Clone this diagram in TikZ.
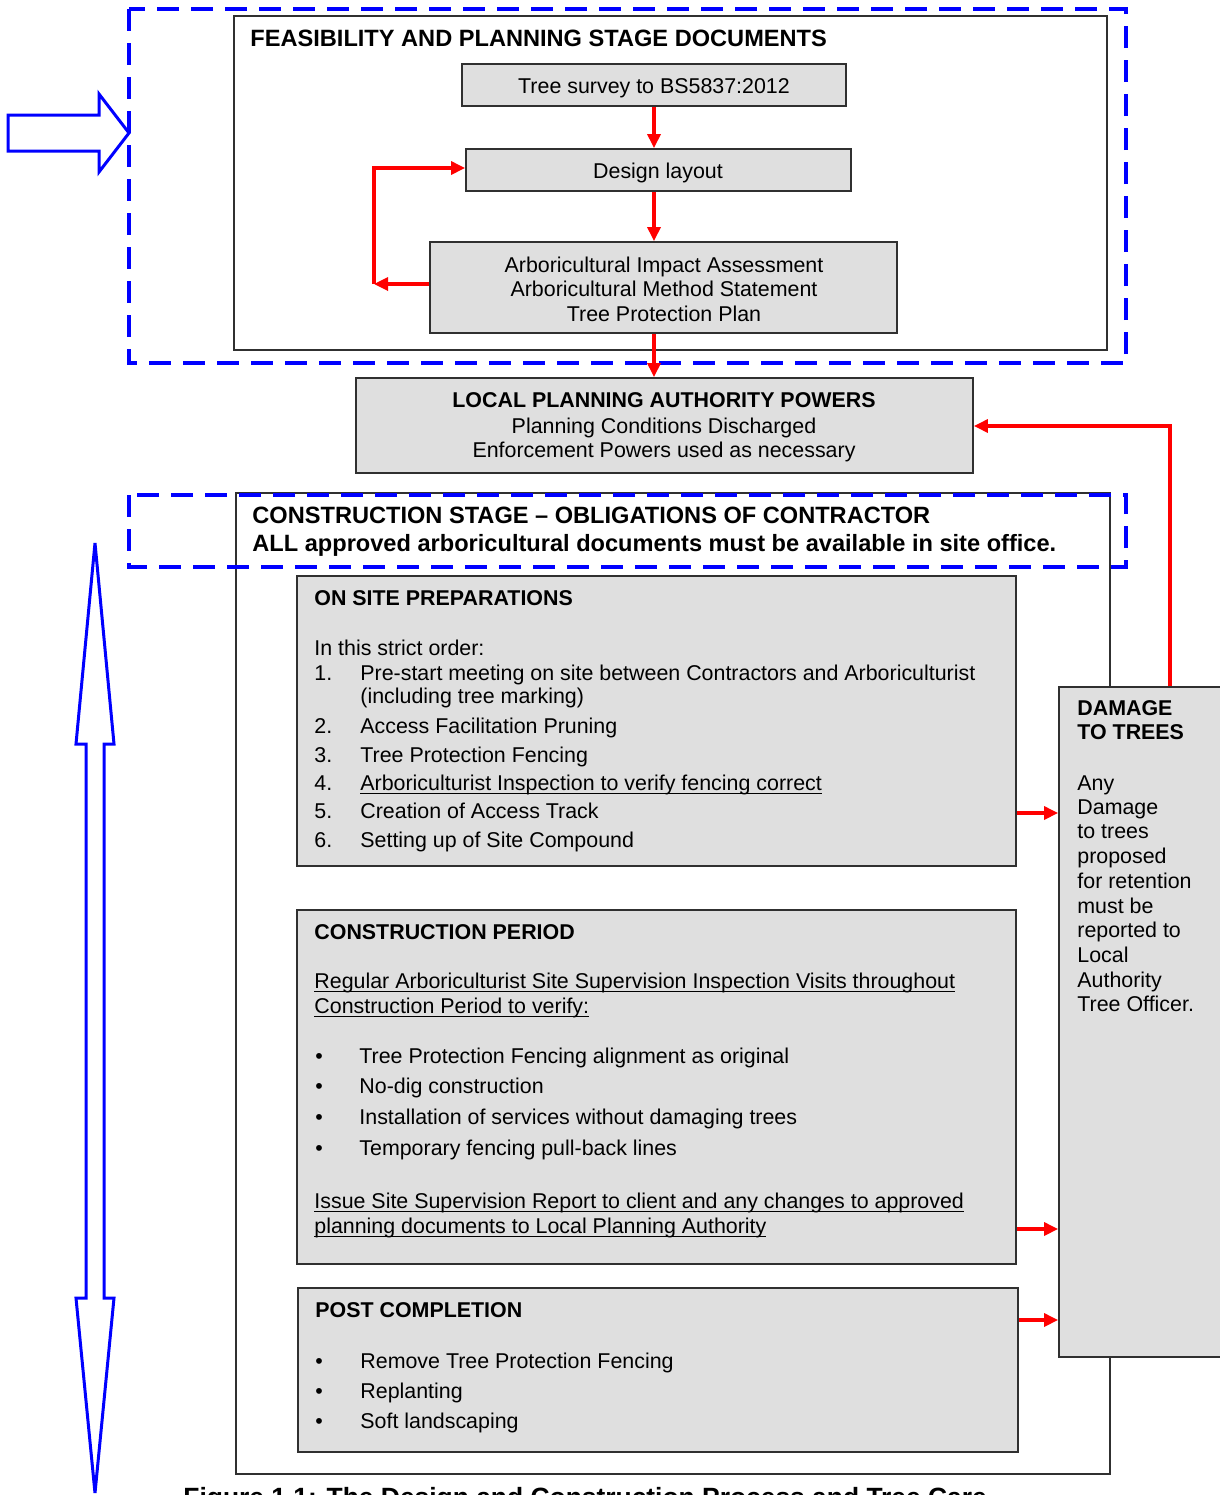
\documentclass[tikz,border=0pt]{standalone}
\usepackage{fontspec}
\setmainfont{Liberation Sans}
\usetikzlibrary{arrows.meta,fit}
\definecolor{boxgray}{HTML}{DFDFDF}
\definecolor{edgecol}{HTML}{303030}
\newcommand\fs{\fontsize{10.7}{13}\selectfont}
\newcommand\fsbig{\fontsize{11.8}{14}\selectfont}
\newcommand\fscap{\fontsize{13.2}{16}\selectfont}
\newcommand\ulined[1]{\setbox0\hbox{#1}\rlap{\rule[-1.8pt]{\wd0}{0.5pt}}\box0}
\tikzset{
  graybox/.style={draw=edgecol, line width=0.9pt, fill=boxgray, inner sep=0pt},
  framebox/.style={draw=edgecol, line width=0.9pt, fill=white, inner sep=0pt},
  bluedash/.style={draw=blue, line width=1.7pt, dash pattern=on 11pt off 6pt},
  redarrow/.style={draw=red, line width=1.6pt, -{Triangle[length=7pt,width=6.5pt]}},
  txt/.style={anchor=base west, inner sep=0pt, font=\fs},
  btxt/.style={anchor=base west, inner sep=0pt, font=\fs\bfseries},
  bigtxt/.style={anchor=base west, inner sep=0pt, font=\fsbig\bfseries},
  ctxt/.style={anchor=base, inner sep=0pt, font=\fs},
  cbtxt/.style={anchor=base, inner sep=0pt, font=\fs\bfseries},
  bul/.style={anchor=base, inner sep=0pt, font=\fs},
  blockarrow/.style={draw=blue, line width=1.5pt, fill=white, line join=miter}
}
\begin{document}
\begin{tikzpicture}[x=0.5pt,y=-0.5pt]
\clip (0,0) rectangle (1220,1495);
\fill[white] (0,0) rectangle (1220,1495);

% ---------- Feasibility stage ----------
\node[framebox, fit={(234,16) (1107,350)}] (feas) {};
\draw[bluedash] (129,9) rectangle (1126,363);
\node[bigtxt] (feastitle) at (250,46) {FEASIBILITY AND PLANNING STAGE DOCUMENTS};

\node[graybox, fit={(462,64) (846,106)}] (survey) {};
\node[ctxt] (surveyt) at (654,93) {Tree survey to BS5837:2012};

\node[graybox, fit={(466,149) (851,191)}] (design) {};
\node[ctxt] (designt) at (658,178) {Design layout};

\node[graybox, fit={(430,242) (897,333)}] (aia) {};
\node[ctxt] (aia1) at (664,272) {Arboricultural Impact Assessment};
\node[ctxt] (aia2) at (664,296) {Arboricultural Method Statement};
\node[ctxt] (aia3) at (664,321) {Tree Protection Plan};

% ---------- Local planning authority ----------
\node[graybox, fit={(356,378) (973,473)}] (lpa) {};
\node[cbtxt] (lpa1) at (664,407) {LOCAL PLANNING AUTHORITY POWERS};
\node[ctxt] (lpa2) at (664,433) {Planning Conditions Discharged};
\node[ctxt] (lpa3) at (664,457) {Enforcement Powers used as necessary};

% ---------- Construction stage ----------
\node[framebox, fit={(236,493) (1110,1474)}] (constr) {};
\draw[bluedash] (129,495) rectangle (1126,567);
\node[bigtxt] (ct1) at (252,523) {CONSTRUCTION STAGE \textendash\ OBLIGATIONS OF CONTRACTOR};
\node[bigtxt] (ct2) at (252,551) {ALL approved arboricultural documents must be available in site office.};

% On site preparations
\node[graybox, fit={(297,576) (1016,866)}] (onsite) {};
\node[btxt] (os0) at (314,605) {ON SITE PREPARATIONS};
\node[txt] (os1) at (314,655) {In this strict order:};
\node[txt] (n1) at (314,680) {1.};
\node[txt] (i1) at (360,680) {Pre-start meeting on site between Contractors and Arboriculturist};
\node[txt] (i1b) at (360,703) {(including tree marking)};
\node[txt] (n2) at (314,733) {2.};
\node[txt] (i2) at (360,733) {Access Facilitation Pruning};
\node[txt] (n3) at (314,762) {3.};
\node[txt] (i3) at (360,762) {Tree Protection Fencing};
\node[txt] (n4) at (314,790) {4.};
\node[txt] (i4) at (360,790) {\ulined{Arboriculturist Inspection to verify fencing correct}};
\node[txt] (n5) at (314,818) {5.};
\node[txt] (i5) at (360,818) {Creation of Access Track};
\node[txt] (n6) at (314,847) {6.};
\node[txt] (i6) at (360,847) {Setting up of Site Compound};

% Construction period
\node[graybox, fit={(297,910) (1016,1264)}] (period) {};
\node[btxt] (cp0) at (314,939) {CONSTRUCTION PERIOD};
\node[txt] (cp1) at (314,988) {\ulined{Regular Arboriculturist Site Supervision Inspection Visits throughout}};
\node[txt] (cp2) at (314,1013) {\ulined{Construction Period to verify:}};
\node[bul] (b1) at (319,1063) {\textbullet};
\node[txt] (cb1) at (359,1063) {Tree Protection Fencing alignment as original};
\node[bul] (b2) at (319,1093) {\textbullet};
\node[txt] (cb2) at (359,1093) {No-dig construction};
\node[bul] (b3) at (319,1124) {\textbullet};
\node[txt] (cb3) at (359,1124) {Installation of services without damaging trees};
\node[bul] (b4) at (319,1155) {\textbullet};
\node[txt] (cb4) at (359,1155) {Temporary fencing pull-back lines};
\node[txt] (cp3) at (314,1208) {\ulined{Issue Site Supervision Report to client and any changes to approved}};
\node[txt] (cp4) at (314,1233) {\ulined{planning documents to Local Planning Authority}};

% Post completion
\node[graybox, fit={(298,1288) (1018,1452)}] (post) {};
\node[btxt] (pc0) at (315,1317) {POST COMPLETION};
\node[bul] (pb1) at (319,1368) {\textbullet};
\node[txt] (pc1) at (360,1368) {Remove Tree Protection Fencing};
\node[bul] (pb2) at (319,1398) {\textbullet};
\node[txt] (pc2) at (360,1398) {Replanting};
\node[bul] (pb3) at (319,1428) {\textbullet};
\node[txt] (pc3) at (360,1428) {Soft landscaping};

% Damage to trees
\node[graybox, fit={(1059,687) (1240,1357)}] (damage) {};
\node[btxt] (d0) at (1077,715) {DAMAGE};
\node[btxt] (d1) at (1077,739) {TO TREES};
\node[txt] (d2) at (1077,790) {Any};
\node[txt] (d3) at (1077,814) {Damage};
\node[txt] (d4) at (1077,838) {to trees};
\node[txt] (d5) at (1077,863) {proposed};
\node[txt] (d6) at (1077,888) {for retention};
\node[txt] (d7) at (1077,913) {must be};
\node[txt] (d8) at (1077,937) {reported to};
\node[txt] (d9) at (1077,962) {Local};
\node[txt] (d10) at (1077,987) {Authority};
\node[txt] (d11) at (1077,1011) {Tree Officer.};

% ---------- Red connectors ----------
\draw[redarrow] (survey.south -| 654,0) -- (design.north -| 654,0);
\draw[redarrow] (design.south -| 654,0) -- (aia.north -| 654,0);
\draw[redarrow] (aia.south -| 654,0) -- (lpa.north -| 654,0);
\coordinate (fbcorner) at (374,284);
\draw[redarrow] (aia.west |- fbcorner) -- (fbcorner);
\draw[redarrow] (fbcorner) |- (design.west |- 0,168);
\draw[redarrow] (damage.north -| 1170,0) |- (lpa.east |- 0,426);
\draw[redarrow] (onsite.east |- 0,813) -- (damage.west |- 0,813);
\draw[redarrow] (period.east |- 0,1229) -- (damage.west |- 0,1229);
\draw[redarrow] (post.east |- 0,1320) -- (damage.west |- 0,1320);

% ---------- Blue block arrows ----------
\draw[blockarrow] (8,115) -- (99,115) -- (99,94) -- (129,133) -- (99,172) -- (99,151) -- (8,151) -- cycle;
\draw[blockarrow] (95,543) -- (114,744) -- (104,744) -- (104,1298) -- (114,1298) -- (95,1493)
   -- (76,1298) -- (86,1298) -- (86,744) -- (76,744) -- cycle;

% ---------- Caption (cut by the page edge, as in the reference) ----------
\node[anchor=base west, inner sep=0pt, font=\fscap\bfseries] (caption) at (183,1506) {Figure 1.1: The Design and Construction Process and Tree Care};
\end{tikzpicture}
\end{document}
